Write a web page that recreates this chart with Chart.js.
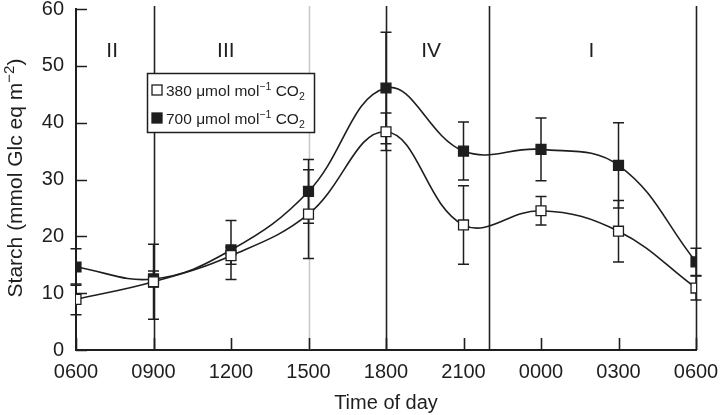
<!DOCTYPE html>
<html>
<head>
<meta charset="utf-8">
<script src="https://cdn.jsdelivr.net/npm/chart.js@4"></script>
<style>
  html, body { margin: 0; padding: 0; background: #fff; }
  #wrap { width: 720px; height: 415px; }
</style>
</head>
<body>
<div id="wrap"><canvas id="starch_chart" width="720" height="415"></canvas></div>
<script>
// hours since 0600, one sample every 3 h
const hours = [0, 3, 6, 9, 12, 15, 18, 21, 24];
const tickLabels = ['0600', '0900', '1200', '1500', '1800', '2100', '0000', '0300', '0600'];

// starch, mmol Glc eq m-2, with error bars
const starch380 = [8.9, 12.0, 16.6, 23.9, 38.4, 22.0, 24.5, 20.9, 10.9];
const err380 = [2.7, 6.6, 1.5, 7.8, 3.3, 6.9, 2.5, 5.4, 2.1];
const starch700 = [14.6, 12.5, 17.6, 27.9, 46.1, 35.0, 35.3, 32.5, 15.5];
const err700 = [3.2, 1.4, 5.2, 5.6, 9.8, 5.1, 5.5, 7.5, 2.4];

// phase boundaries (hours) and phase names
const phaseLines = [3, 9, 12, 16, 24];
const phaseLineColors = ['#222', '#c8c8c8', '#222', '#222', '#222'];
const phaseNames = ['II', 'III', 'IV', 'I'];
const phaseNameHours = [1.4, 5.8, 13.75, 19.95];
const phaseNameLevel = 52.5;

const ink = '#1e1e1e';
const fontFam = "'Liberation Sans', Arial, sans-serif";

const toPoints = (ys) => ys.map((y, i) => ({ x: hours[i], y: y }));

// error bars + phase lines, drawn under the markers
const underlayPlugin = {
  id: 'underlay',
  beforeDatasetsDraw(chart) {
    const { ctx, chartArea, scales } = chart;
    const xs = scales.x, ys = scales.y;
    ctx.save();
    ctx.lineWidth = 1.6;
    phaseLines.forEach((h, i) => {
      const px = Math.round(xs.getPixelForValue(h)) + 0.5;
      ctx.strokeStyle = phaseLineColors[i];
      ctx.beginPath();
      ctx.moveTo(px, chartArea.top - 3);
      ctx.lineTo(px, chartArea.bottom);
      ctx.stroke();
    });

    // phase labels
    ctx.fillStyle = ink;
    ctx.font = '21px ' + fontFam;
    ctx.textAlign = 'center';
    ctx.textBaseline = 'middle';
    phaseNames.forEach((n, i) => {
      ctx.fillText(n, xs.getPixelForValue(phaseNameHours[i]), ys.getPixelForValue(phaseNameLevel));
    });

    // error bars
    ctx.strokeStyle = ink;
    ctx.lineWidth = 1.5;
    const errs = [err380, err700];
    chart.data.datasets.forEach((ds, di) => {
      ds.data.forEach((p, i) => {
        const px = xs.getPixelForValue(p.x);
        const top = ys.getPixelForValue(p.y + errs[di][i]);
        const bot = ys.getPixelForValue(p.y - errs[di][i]);
        ctx.beginPath();
        ctx.moveTo(px, top);
        ctx.lineTo(px, bot);
        ctx.moveTo(px - 5.5, top);
        ctx.lineTo(px + 5.5, top);
        ctx.moveTo(px - 5.5, bot);
        ctx.lineTo(px + 5.5, bot);
        ctx.stroke();
      });
    });
    ctx.restore();
  }
};

// inward ticks, axis title and legend box
const overlayPlugin = {
  id: 'overlay',
  afterDraw(chart) {
    const { ctx, chartArea, scales } = chart;
    const xs = scales.x, ys = scales.y;
    ctx.save();
    ctx.strokeStyle = ink;
    ctx.lineWidth = 1.6;
    ctx.beginPath();
    for (let v = 0; v <= 60; v += 10) {
      const py = Math.round(ys.getPixelForValue(v)) + 0.5;
      ctx.moveTo(chartArea.left, py);
      ctx.lineTo(chartArea.left + 11, py);
    }
    hours.forEach(h => {
      const px = Math.round(xs.getPixelForValue(h)) + 0.5;
      ctx.moveTo(px, chartArea.bottom);
      ctx.lineTo(px, chartArea.bottom - 12);
    });
    ctx.stroke();

    // y title with superscript
    ctx.fillStyle = ink;
    ctx.translate(22, 178);
    ctx.rotate(-Math.PI / 2);
    ctx.textBaseline = 'alphabetic';
    ctx.textAlign = 'left';
    const main = 'Starch (mmol Glc eq m';
    ctx.font = '21px ' + fontFam;
    const w1 = ctx.measureText(main).width;
    ctx.font = '15px ' + fontFam;
    const w2 = ctx.measureText('\u22122').width;
    ctx.font = '21px ' + fontFam;
    const w3 = ctx.measureText(')').width;
    let x0 = -(w1 + w2 + w3) / 2;
    ctx.fillText(main, x0, 0);
    ctx.font = '15px ' + fontFam;
    ctx.fillText('\u22122', x0 + w1, -8);
    ctx.font = '21px ' + fontFam;
    ctx.fillText(')', x0 + w1 + w2, 0);
    ctx.restore();

    // legend
    ctx.save();
    const lx = 147, ly = 73, lw = 167, lh = 59;
    ctx.fillStyle = '#fff';
    ctx.fillRect(lx, ly, lw, lh);
    ctx.strokeStyle = ink;
    ctx.lineWidth = 1.5;
    ctx.strokeRect(lx + 0.5, ly + 0.5, lw, lh);
    const rows = [
      { label: '380', fill: '#fff', y: ly + 17 },
      { label: '700', fill: ink, y: ly + 45 }
    ];
    rows.forEach(r => {
      ctx.fillStyle = r.fill;
      ctx.fillRect(lx + 5, r.y - 5, 10, 10);
      ctx.strokeStyle = ink;
      ctx.lineWidth = 1.3;
      ctx.strokeRect(lx + 5, r.y - 5, 10, 10);
      ctx.fillStyle = ink;
      ctx.textBaseline = 'alphabetic';
      ctx.textAlign = 'left';
      let tx = lx + 19;
      const base = r.y + 5.5;
      ctx.font = '15.5px ' + fontFam;
      const part1 = r.label + ' \u03bcmol mol';
      ctx.fillText(part1, tx, base);
      tx += ctx.measureText(part1).width;
      ctx.font = '10.5px ' + fontFam;
      ctx.fillText('\u22121', tx, base - 6);
      tx += ctx.measureText('\u22121').width;
      ctx.font = '15.5px ' + fontFam;
      ctx.fillText(' CO', tx, base);
      tx += ctx.measureText(' CO').width;
      ctx.font = '10.5px ' + fontFam;
      ctx.fillText('2', tx, base + 4);
    });
    ctx.restore();
  }
};

const ctxStarch = document.getElementById('starch_chart').getContext('2d');

const cfgStarch = {
  type: 'line',
  data: {
    datasets: [
      {
        label: '380',
        data: toPoints(starch380),
        borderColor: ink,
        borderWidth: 1.6,
        backgroundColor: '#fff',
        pointBackgroundColor: '#fff',
        pointBorderColor: ink,
        pointBorderWidth: 1.3,
        pointStyle: 'rect',
        pointRadius: 7,
        tension: 0.4,
        fill: false
      },
      {
        label: '700',
        data: toPoints(starch700),
        borderColor: ink,
        borderWidth: 1.6,
        backgroundColor: ink,
        pointBackgroundColor: ink,
        pointBorderColor: ink,
        pointBorderWidth: 1.3,
        pointStyle: 'rect',
        pointRadius: 7,
        tension: 0.4,
        fill: false
      }
    ]
  },
  options: {
    responsive: false,
    animation: false,
    devicePixelRatio: 1,
    layout: { padding: { left: 0, top: 9, right: 24, bottom: 0 } },
    plugins: {
      legend: { display: false },
      tooltip: { enabled: false }
    },
    scales: {
      x: {
        type: 'linear',
        min: 0,
        max: 24,
        afterFit: (s) => {
          s.height = 65;
          s.paddingLeft = 0;
          s.paddingRight = 0;
        },
        afterBuildTicks: (s) => { s.ticks = hours.map(h => ({ value: h })); },
        grid: { display: false, drawTicks: false },
        border: { display: true, color: ink, width: 2 },
        ticks: {
          color: ink,
          font: { family: fontFam, size: 20 },
          padding: 10,
          maxRotation: 0,
          autoSkip: false,
          callback: (v) => tickLabels[hours.indexOf(v)]
        },
        title: {
          display: true,
          text: 'Time of day',
          color: ink,
          font: { family: fontFam, size: 20 },
          padding: { top: 2, bottom: 0 }
        }
      },
      y: {
        min: 0,
        max: 60,
        afterFit: (s) => {
          s.width = 76;
          s.paddingTop = 0;
          s.paddingBottom = 0;
        },
        grid: { display: false, drawTicks: false },
        border: { display: true, color: ink, width: 2 },
        ticks: {
          stepSize: 10,
          color: ink,
          font: { family: fontFam, size: 20 },
          padding: 12
        }
      }
    }
  },
  plugins: [underlayPlugin, overlayPlugin]
};

const starchChart = new Chart(ctxStarch, cfgStarch);
</script>
</body>
</html>
